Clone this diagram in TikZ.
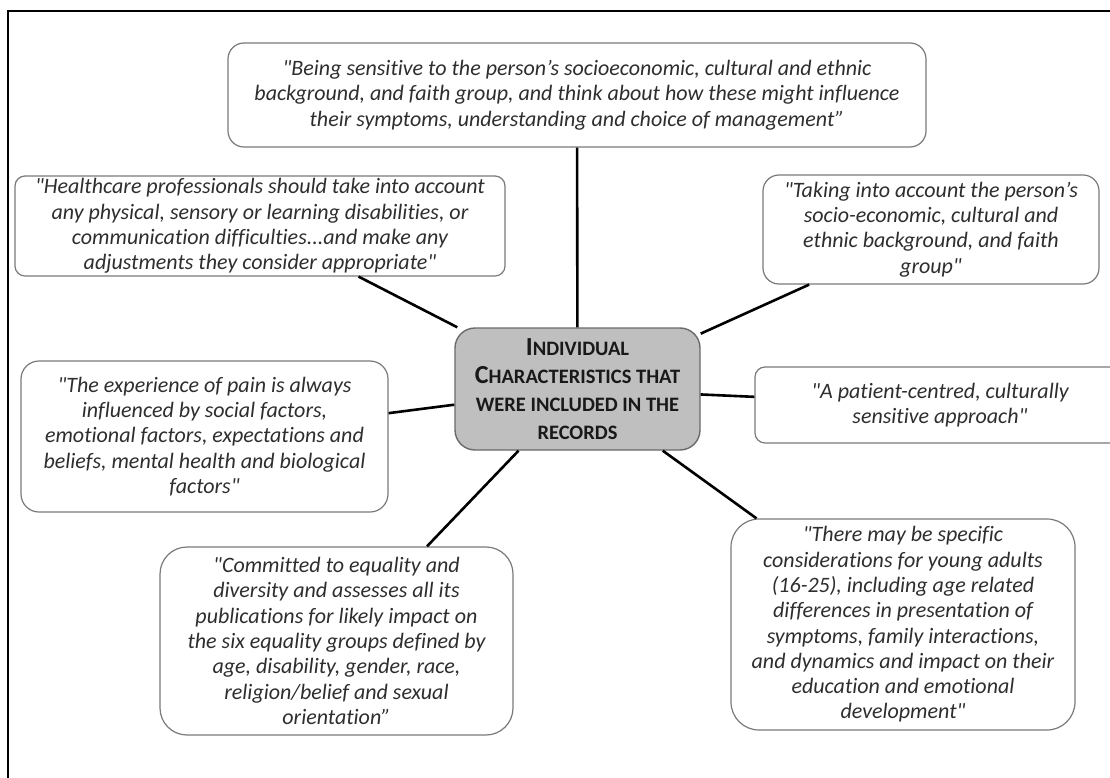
\documentclass[tikz,border=0pt]{standalone}
\usepackage{fontspec}
\setmainfont{Carlito}[Ligatures={TeXOff,NoCommon}]
\definecolor{boxgray}{HTML}{7A7A7A}
\definecolor{textgray}{HTML}{2E2E2E}
\definecolor{hubfill}{HTML}{BFBFBF}
\definecolor{hubline}{HTML}{6A6A6A}
% larger initial capital for the hand-made small caps of the hub label
\newcommand\initcap[1]{{\fontsize{26}{28}\selectfont #1}}
\begin{document}
\begin{tikzpicture}[x=1pt,y=-1pt,
  quote/.style={draw=boxgray, line width=1.2pt, rounded corners=#1, fill=white,
    align=center, text=textgray, inner sep=0pt,
    font=\fontsize{22}{25.3}\selectfont\itshape},
  quote/.default=15pt,
  hub/.style={draw=hubline, line width=1.4pt, rounded corners=20pt, fill=hubfill,
    align=center, text=black!90, inner sep=0pt,
    font=\fontsize{20.5}{28}\selectfont\bfseries},
  link/.style={line width=2.6pt, black}]
\useasboundingbox (0,0) rectangle (1110,778);
\clip (0,0) rectangle (1110,778);
\fill[white] (0,0) rectangle (1110,778);
% outer frame (runs past the right and bottom edges)
\draw[line width=2.6pt, black] (1140,11) -- (8,11) -- (8,800);

% central topic
\node[hub, minimum width=245pt, minimum height=122pt] (C) at (577.5,389)
  {\initcap{I}NDIVIDUAL\\ \initcap{C}HARACTERISTICS THAT\\ WERE INCLUDED IN THE\\ RECORDS};

% quotations around it
\node[quote=16pt, minimum width=698pt, minimum height=104pt] (T) at (577,95)
  {"Being sensitive to the person’s socioeconomic, cultural and ethnic\\
   background, and faith group, and think about how these might influence\\
   their symptoms, understanding and choice of management”};
\node[quote=10pt, minimum width=490pt, minimum height=100pt] (UL) at (260,226)
  {"Healthcare professionals should take into account\\
   any physical, sensory or learning disabilities, or\\
   communication difficulties...and make any\\
   adjustments they consider appropriate"};
\node[quote=16pt, minimum width=336pt, minimum height=109pt] (UR) at (931,229.5)
  {"Taking into account the person’s\\
   socio-economic, cultural and\\
   ethnic background, and faith\\
   group"};
\node[quote=10pt, minimum width=370pt, minimum height=76pt] (R) at (940,405)
  {"A patient-centred, culturally\\
   sensitive approach"};
\node[quote=18pt, minimum width=367pt, minimum height=151pt] (L) at (204.5,436.5)
  {"The experience of pain is always\\
   influenced by social factors,\\
   emotional factors, expectations and\\
   beliefs, mental health and biological\\
   factors"};
\node[quote=27pt, minimum width=353pt, minimum height=188pt] (BL) at (336.5,641)
  {"Committed to equality and\\
   diversity and assesses all its\\
   publications for likely impact on\\
   the six equality groups defined by\\
   age, disability, gender, race,\\
   religion/belief and sexual\\
   orientation”};
\node[quote=28pt, minimum width=344pt, minimum height=211pt] (BR) at (903,624.5)
  {"There may be specific\\
   considerations for young adults\\
   (16-25), including age related\\
   differences in presentation of\\
   symptoms, family interactions,\\
   and dynamics and impact on their\\
   education and emotional\\
   development"};

% spokes from the hub
\foreach \n in {T,UL,UR,R,L,BL,BR}
  \draw[link] (C) -- (\n);
\end{tikzpicture}
\end{document}
